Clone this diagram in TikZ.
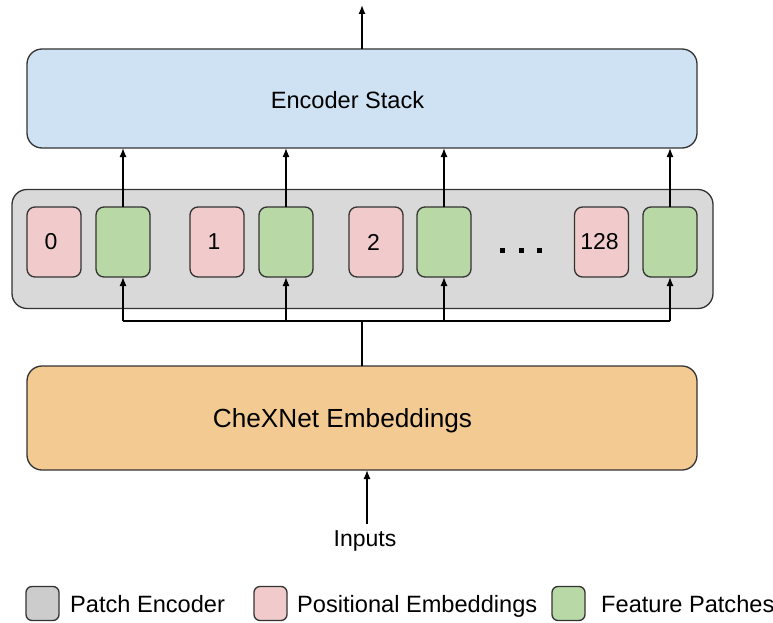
\documentclass[tikz,border=0pt]{standalone}
\usepackage{fontspec}
\setmainfont{Liberation Sans}
\usetikzlibrary{arrows.meta}
\definecolor{encblue}{HTML}{CFE2F3}
\definecolor{pegray}{HTML}{D9D9D9}
\definecolor{leggray}{HTML}{CCCCCC}
\definecolor{pospink}{HTML}{F1CBCB}
\definecolor{featgreen}{HTML}{B8D8A6}
\definecolor{chexorange}{HTML}{F2CA92}
\definecolor{edge}{HTML}{333333}
\tikzset{
  box/.style={draw=edge, line width=1.3pt, rounded corners=15pt, inner sep=0pt, outer sep=0pt},
  tok/.style={draw=edge, line width=1.3pt, rounded corners=8pt, inner sep=0pt, outer sep=0pt,
    minimum width=54pt, minimum height=70pt, font=\fontsize{23}{26}\selectfont},
  posbox/.style={tok, fill=pospink},
  featbox/.style={tok, fill=featgreen},
  swatch/.style={draw=edge, line width=1.3pt, rounded corners=6pt, inner sep=0pt, outer sep=0pt,
    minimum width=33pt, minimum height=34pt},
  legtext/.style={anchor=base west, inner sep=0pt, font=\fontsize{23.6}{27}\selectfont},
  dotsq/.style={fill=black},
  conn/.style={draw=black, line width=1.3pt},
  arr/.style={conn, -{Latex[length=9pt,width=7pt]}},
}
\begin{document}
\begin{tikzpicture}[x=1pt,y=-1pt]
\useasboundingbox (0,0) rectangle (773,623);
% main boxes
\node[box, fill=encblue, minimum width=670pt, minimum height=99pt, text height=21pt, text depth=0pt,
  font=\fontsize{23.6}{27}\selectfont]
  (enc) at (362,98.5) {Encoder Stack\kern29pt};
\node[box, fill=pegray, minimum width=701pt, minimum height=119pt] (pe) at (362.5,249) {};
\node[box, fill=chexorange, minimum width=670pt, minimum height=104pt, text height=18pt, text depth=0pt,
  font=\fontsize{26.2}{30}\selectfont]
  (chex) at (362,418) {CheXNet Embeddings\kern39pt};
% tokens
\node[posbox] (p0) at (54,242) {0\kern6pt};
\node[featbox] (f0) at (123,242) {};
\node[posbox] (p1) at (217,242) {1\kern6pt};
\node[featbox] (f1) at (286,242) {};
\node[posbox] (p2) at (376,242) {2\kern5pt};
\node[featbox] (f2) at (444,242) {};
\node[posbox] (p128) at (601.5,242) {128\kern4pt};
\node[featbox] (f128) at (670,242) {};
% ellipsis
\foreach \dx in {502,521,539}{
  \fill[dotsq] (\dx-2.5,247.5) rectangle (\dx+2.5,252.5);
}
% output arrow
\coordinate (out) at (362,5);
\draw[arr] (enc.north) -- (out);
% feature patches to encoder
\foreach \f in {f0,f1,f2,f128}{
  \draw[arr] (\f.north) -- (\f.north |- enc.south);
}
% bus from CheXNet
\coordinate (bus) at (362,321);
\draw[conn] (chex.north) -- (bus);
\draw[conn] (f0.south |- bus) -- (f128.south |- bus);
\foreach \f in {f0,f1,f2,f128}{
  \draw[arr] (\f.south |- bus) -- (\f.south);
}
% inputs
\node[inner sep=0pt, font=\fontsize{23}{26}\selectfont] (inp) at (365,541) {Inputs};
\coordinate (inpTop) at (367,524);
\draw[arr] (inpTop) -- (inpTop |- chex.south);
% legend
\node[swatch, fill=leggray] (lg1) at (42.5,603.5) {};
\node[legtext] (lt1) at (70,612) {Patch Encoder};
\node[swatch, fill=pospink] (lg2) at (270.5,603.5) {};
\node[legtext] (lt2) at (297,612) {Positional Embeddings};
\node[swatch, fill=featgreen] (lg3) at (568.5,603.5) {};
\node[legtext] (lt3) at (601,612) {Feature Patches};
\end{tikzpicture}
\end{document}
